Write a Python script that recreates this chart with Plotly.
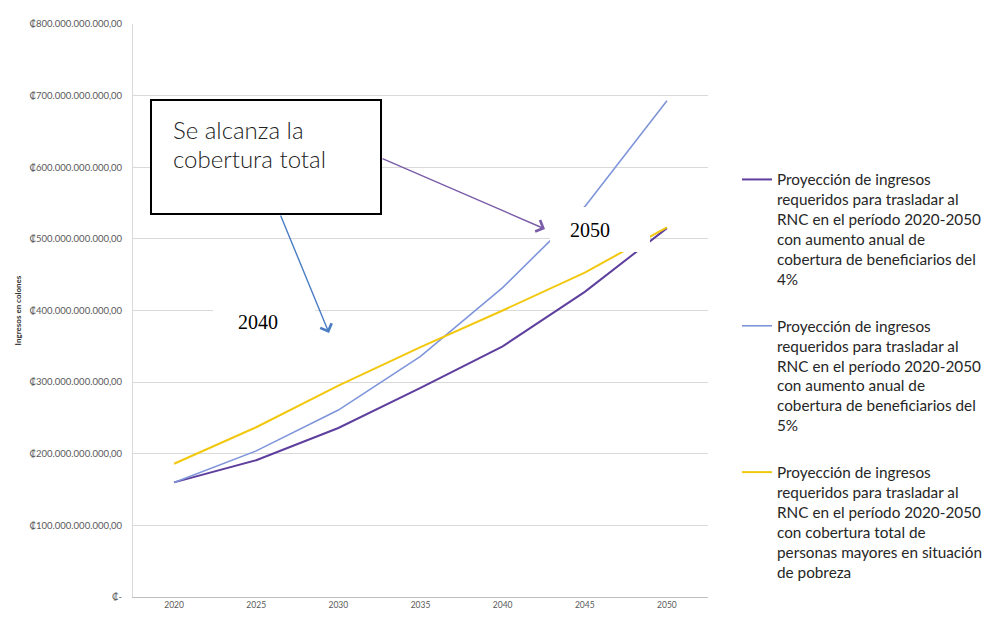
import plotly.graph_objects as go

# ---- Datos (miles de millones de colones) ----
anios = [2020, 2025, 2030, 2035, 2040, 2045, 2050]
ingresos_4pct = [160, 191, 236, 292, 350, 426, 515]
ingresos_5pct = [160, 204, 261, 336, 432, 545, 693]
ingresos_total = [186, 237, 295, 349, 400, 453, 516]

y_ticks = [0, 100, 200, 300, 400, 500, 600, 700, 800]
y_tick_labels = ["₡-", "₡100.000.000.000,00", "₡200.000.000.000,00",
                 "₡300.000.000.000,00", "₡400.000.000.000,00",
                 "₡500.000.000.000,00", "₡600.000.000.000,00",
                 "₡700.000.000.000,00", "₡800.000.000.000,00"]
x_tick_labels = [str(a) for a in anios]

nombres = [
    "Proyección de ingresos<br>requeridos para trasladar al<br>RNC en el período 2020-2050<br>con aumento anual de<br>cobertura de beneficiarios del<br>4%",
    "Proyección de ingresos<br>requeridos para trasladar al<br>RNC en el período 2020-2050<br>con aumento anual de<br>cobertura de beneficiarios del<br>5%",
    "Proyección de ingresos<br>requeridos para trasladar al<br>RNC en el período 2020-2050<br>con cobertura total de<br>personas mayores en situación<br>de pobreza",
]
series = [ingresos_4pct, ingresos_5pct, ingresos_total]
colores = ["#5E3F9E", "#7F95DA", "#F2C80F"]
anchos = [2, 1.6, 2]

fig = go.Figure()
for i, (nom, ys, col, w) in enumerate(zip(nombres, series, colores, anchos)):
    fig.add_trace(go.Scatter(x=anios, y=ys, mode="lines", name=nom,
                             legendgroup=f"g{i}",
                             line=dict(color=col, width=w)))

# page px -> data helpers (plot area on the page: x 133..708, y 24..597)
def dx(px):
    return 2017.5 + (px - 133) * 35.0 / 575.0

def dy(py):
    return (597 - py) * 800.0 / 573.0

shapes = [
    # white patches behind labels
    dict(type="rect", xref="x", yref="y", x0=dx(550), x1=dx(650), y0=dy(252), y1=dy(207),
         fillcolor="white", line=dict(width=0), layer="above"),
    dict(type="rect", xref="x", yref="y", x0=dx(213), x1=dx(315), y0=dy(345), y1=dy(300),
         fillcolor="white", line=dict(width=0), layer="above"),
    # callout box
    dict(type="rect", xref="x", yref="y", x0=dx(151), x1=dx(381), y0=dy(214), y1=dy(100),
         fillcolor="white", line=dict(color="black", width=2), layer="above"),
]

caja_font = dict(family="Lato", size=24, color="#222222", weight=300)
annotations = [
    dict(x=dx(171), y=dy(129), xref="x", yref="y", text="Se alcanza la", showarrow=False,
         xanchor="left", yanchor="middle", font=caja_font),
    dict(x=dx(171), y=dy(158), xref="x", yref="y", text="cobertura total", showarrow=False,
         xanchor="left", yanchor="middle", font=caja_font),
    dict(x=dx(590), y=dy(230), xref="x", yref="y", text="2050", showarrow=False,
         font=dict(family="Liberation Serif", size=20, color="black")),
    dict(x=dx(258), y=dy(322), xref="x", yref="y", text="2040", showarrow=False,
         font=dict(family="Liberation Serif", size=20, color="black")),
    # arrows
    dict(x=dx(545), y=dy(229), ax=dx(381), ay=dy(158), xref="x", yref="y",
         axref="x", ayref="y", text="", showarrow=True, arrowhead=4,
         arrowsize=1.7, arrowwidth=1.4, arrowcolor="#7A5CA8", standoff=0, startstandoff=0),
    dict(x=dx(329), y=dy(333), ax=dx(280), ay=dy(214), xref="x", yref="y",
         axref="x", ayref="y", text="", showarrow=True, arrowhead=4,
         arrowsize=1.7, arrowwidth=1.4, arrowcolor="#4A7DC4", standoff=0, startstandoff=0),
]

# the page places the figure 8px from the top-left corner
fig.update_layout(
    width=982, height=610,
    margin=dict(l=125, r=282, t=16, b=21, autoexpand=False),
    plot_bgcolor="white", paper_bgcolor="white",
    showlegend=True,
    legend=dict(x=(737 - 133) / 575.0, y=(597 - 163) / 573.0, xanchor="left", yanchor="top",
                valign="top", tracegroupgap=24, bgcolor="rgba(0,0,0,0)",
                font=dict(family="Lato", size=15.3, color="#262626")),
    xaxis=dict(range=[2017.5, 2052.5], tickvals=anios, ticktext=x_tick_labels,
               showgrid=False, zeroline=False, showline=True, linecolor="#bfbfbf",
               ticks="", automargin=False,
               tickfont=dict(family="Lato", size=8.5, color="#595959")),
    yaxis=dict(range=[0, 800], tickvals=y_ticks, ticktext=y_tick_labels,
               showgrid=True, gridcolor="#d9d9d9", gridwidth=1, zeroline=False,
               showline=True, linecolor="#d9d9d9", ticks="", automargin=False,
               ticklabelstandoff=8,
               tickfont=dict(family="Lato", size=9.5, color="#595959"),
               title=dict(text="<b>Ingresos en colones</b>", standoff=6,
                          font=dict(family="Lato", size=8, color="#333333"))),
    shapes=shapes,
    annotations=annotations,
)

fig.write_html("out.html")
